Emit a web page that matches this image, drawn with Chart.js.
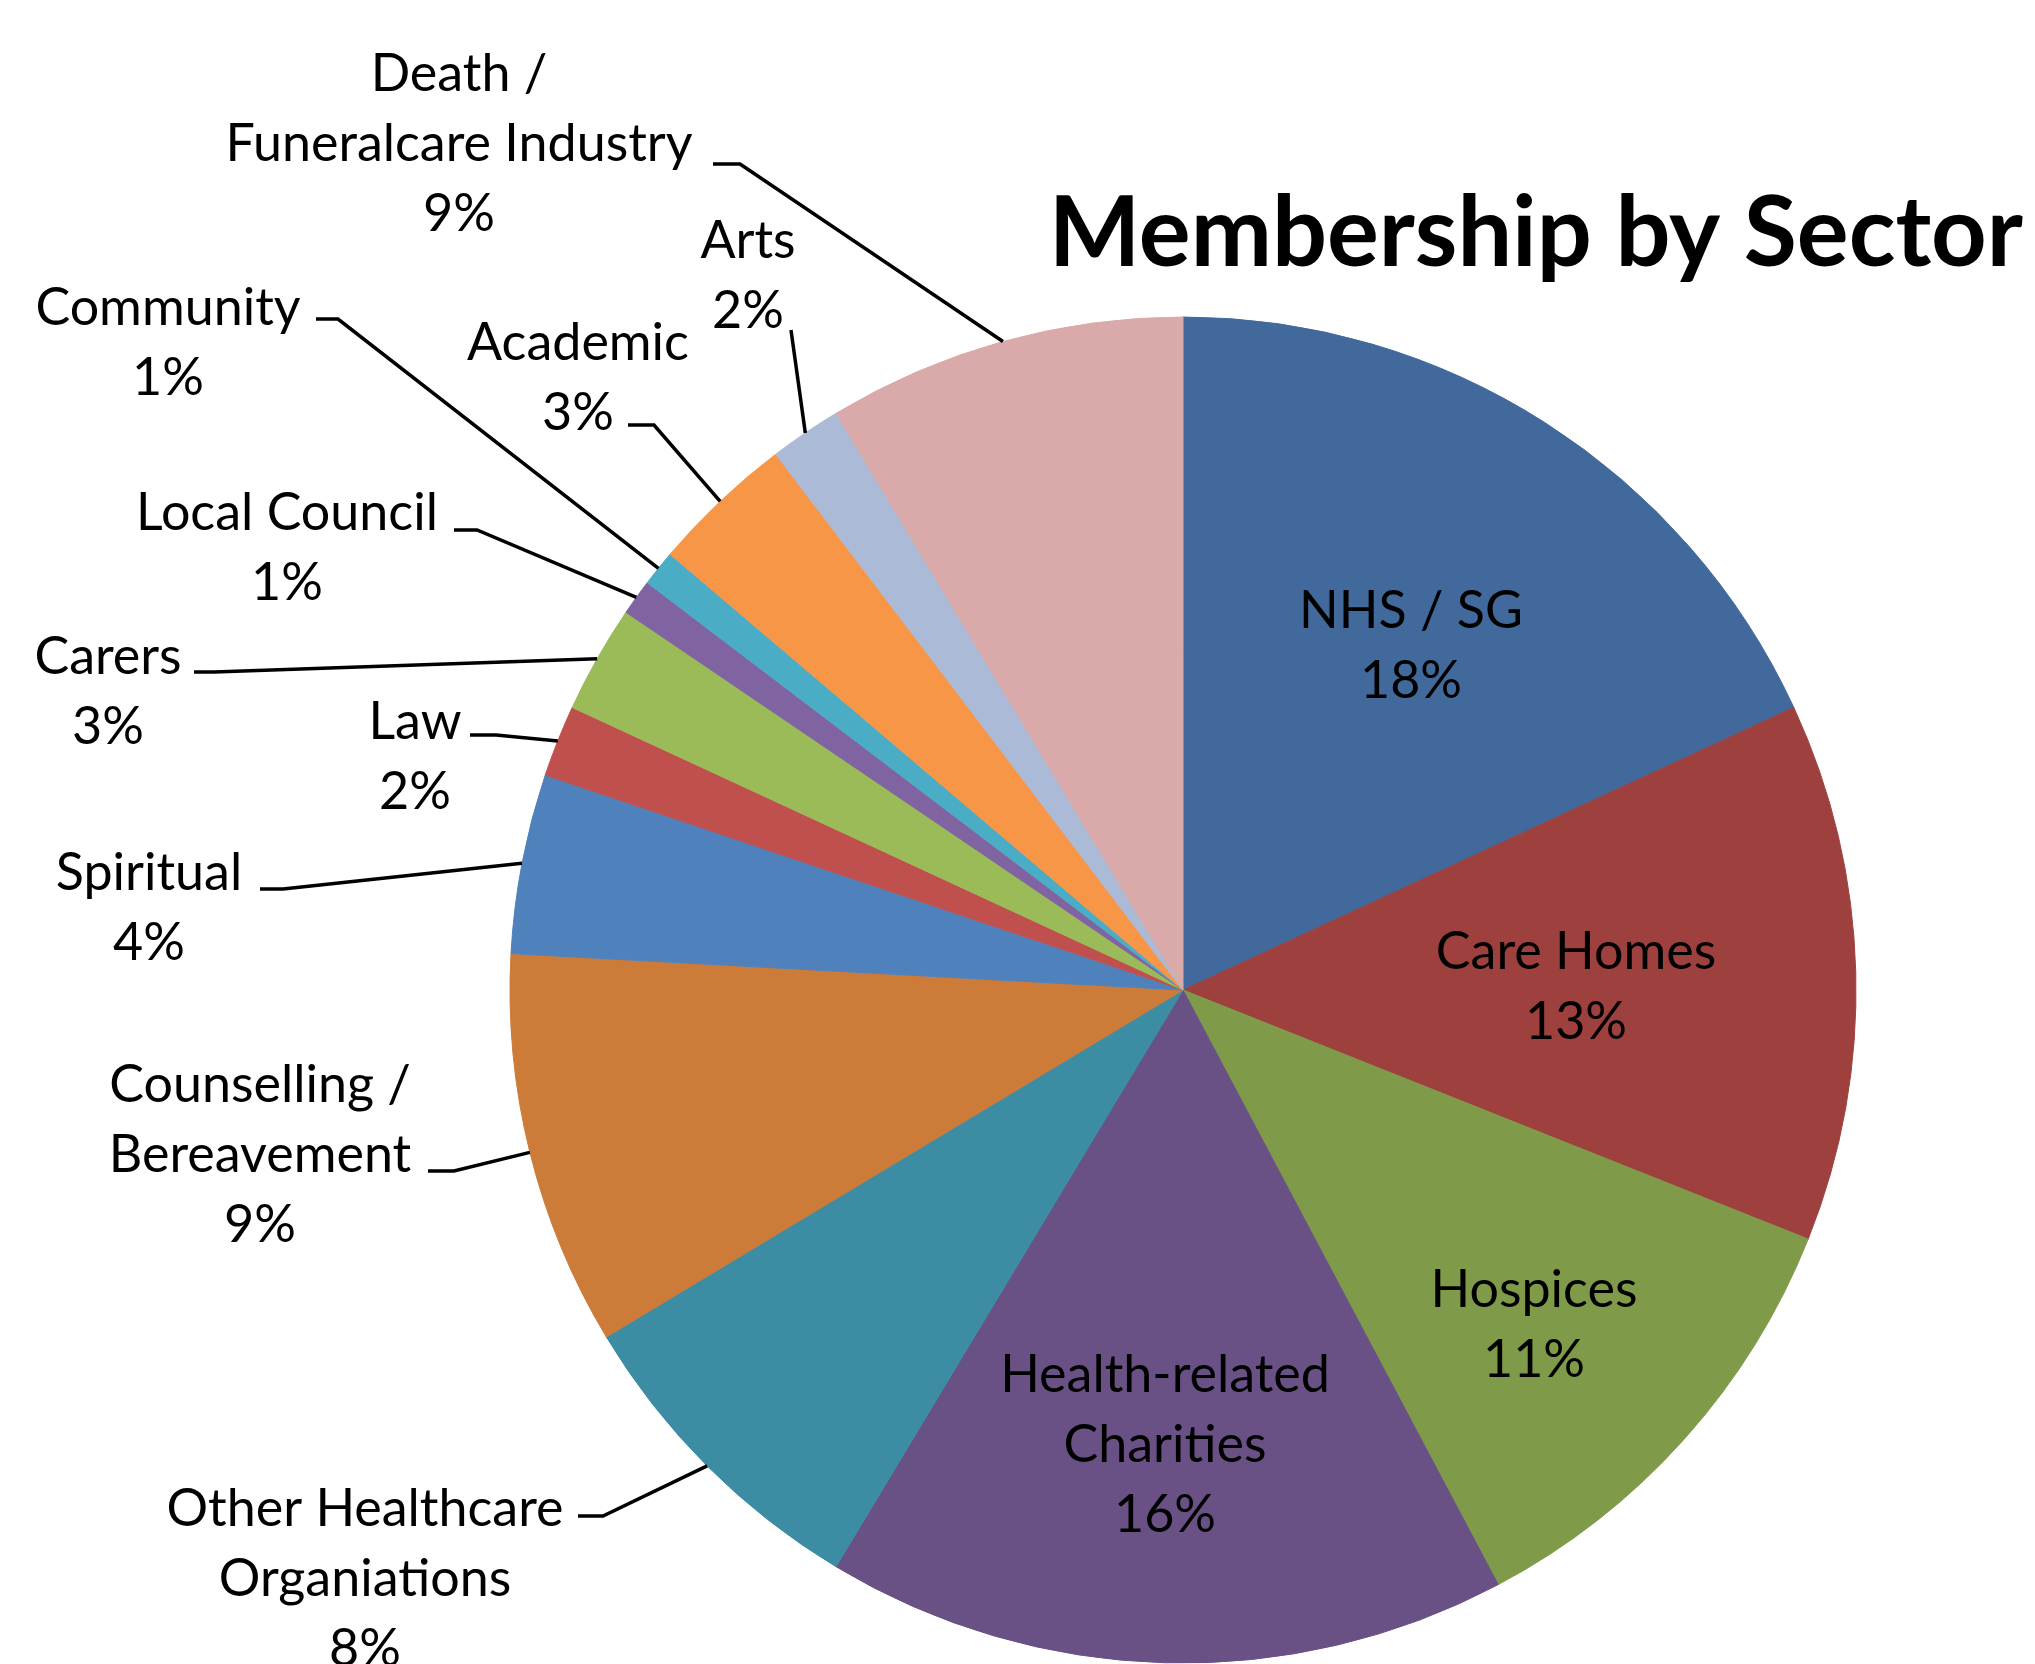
<!DOCTYPE html>
<html>
<head>
<meta charset="utf-8">
<title>Membership by Sector</title>
<script src="https://cdn.jsdelivr.net/npm/chart.js@4.4.1/dist/chart.umd.min.js"></script>
<style>
  html, body { margin: 0; padding: 0; background: #ffffff; }
  #wrap { width: 2035px; height: 1664px; position: relative; }
</style>
</head>
<body>
<div id="wrap"><canvas id="sectorPie"></canvas></div>
<script>
// ---- data (member counts per sector, clockwise from 12 o'clock) ----
const sectors = [
  "NHS / SG", "Care Homes", "Hospices", "Health-related Charities",
  "Other Healthcare Organiations", "Counselling / Bereavement", "Spiritual",
  "Law", "Carers", "Local Council", "Community", "Academic", "Arts",
  "Death / Funeralcare Industry"
];
const members = [21, 15, 13, 19, 9, 11, 5, 2, 3, 1, 1, 4, 2, 10];

// how each label is broken into lines
const labelLines = [
  ["NHS / SG"], ["Care Homes"], ["Hospices"], ["Health-related", "Charities"],
  ["Other Healthcare", "Organiations"], ["Counselling /", "Bereavement"], ["Spiritual"],
  ["Law"], ["Carers"], ["Local Council"], ["Community"], ["Academic"], ["Arts"],
  ["Death /", "Funeralcare Industry"]
];

const sliceColors = [
  "#41699b", "#9e413e", "#7f9a48", "#695185", "#3c8ca3", "#cc7b38", "#4f81bd",
  "#c0504d", "#9bbb59", "#8064a2", "#4bacc6", "#f79646", "#aabad7", "#d9aaa9"
];

/* -------------------------------------------------------
   label placement, offsets from the pie centre (px)
   tx/ty = centre of first text line, sx/sy = start of leader stub
------------------------------------------------------- */
const labelPlace = [
  { tx: 228,  ty: -379 },
  { tx: 393,  ty: -38 },
  { tx: 351,  ty: 300 },
  { tx: -18,  ty: 385 },
  { tx: -818, ty: 519, sx: -605, sy: 526, stub: 25 },
  { tx: -923, ty: 95,  sx: -755, sy: 181, stub: 26 },
  { tx: -1034, ty: -117, sx: -923, sy: -101, stub: 23 },
  { tx: -768, ty: -268, sx: -713, sy: -255, stub: 26 },
  { tx: -1075, ty: -333, sx: -989, sy: -318, stub: 20 },
  { tx: -896, ty: -477, sx: -729, sy: -460, stub: 23 },
  { tx: -1015, ty: -682, sx: -867, sy: -671, stub: 22 },
  { tx: -605, ty: -647, sx: -555, sy: -565, stub: 26 },
  { tx: -435, ty: -749, sx: -392, sy: -660, stub: 0 },
  { tx: -724, ty: -916, sx: -470, sy: -826, stub: 27 }
];

const LABEL_FONT = "52px Lato, 'Open Sans', sans-serif";
const LINE_H = 70;

const sliceLabels = {
  id: "sliceLabels",
  afterDatasetsDraw(chart) {
    const ctx = chart.ctx;
    const meta = chart.getDatasetMeta(0);
    const total = members.reduce((a, b) => a + b, 0);
    ctx.save();
    ctx.font = LABEL_FONT;
    ctx.fillStyle = "#000000";
    ctx.strokeStyle = "#000000";
    ctx.lineWidth = 3.5;
    ctx.textAlign = "center";
    ctx.textBaseline = "middle";

    meta.data.forEach((arc, i) => {
      const p = arc.getProps(["x", "y", "startAngle", "endAngle", "outerRadius"], true);
      const place = labelPlace[i];
      const lines = labelLines[i].concat([Math.round(members[i] / total * 100) + "%"]);
      lines.forEach((txt, k) => {
        ctx.fillText(txt, p.x + place.tx, p.y + place.ty + k * LINE_H);
      });

      // leader line to the middle of the slice's outer edge
      if (place.sx !== undefined) {
        const mid = (p.startAngle + p.endAngle) / 2;
        const ex = p.x + Math.cos(mid) * p.outerRadius;
        const ey = p.y + Math.sin(mid) * p.outerRadius;
        ctx.beginPath();
        ctx.moveTo(p.x + place.sx, p.y + place.sy);
        ctx.lineTo(p.x + place.sx + place.stub, p.y + place.sy);
        ctx.lineTo(ex, ey);
        ctx.stroke();
      }
    });

    // title
    ctx.font = "bold 97px Lato, 'Open Sans', sans-serif";
    ctx.textAlign = "right";
    ctx.textBaseline = "alphabetic";
    ctx.fillText("Membership by Sector", 2023, 266);
    ctx.restore();
  }
};

new Chart(document.getElementById("sectorPie"), {
  type: "pie",
  data: {
    labels: sectors,
    datasets: [{
      data: members,
      backgroundColor: sliceColors,
      borderColor: sliceColors,
      borderWidth: 1,
      hoverOffset: 0
    }]
  },
  options: {
    responsive: true,
    maintainAspectRatio: false,
    animation: false,
    radius: 673,
    layout: { padding: { left: 510, right: 179, top: 317, bottom: 1 } },
    plugins: {
      legend: { display: false },
      title: { display: false },
      tooltip: { enabled: false }
    }
  },
  plugins: [sliceLabels]
});
</script>
</body>
</html>
